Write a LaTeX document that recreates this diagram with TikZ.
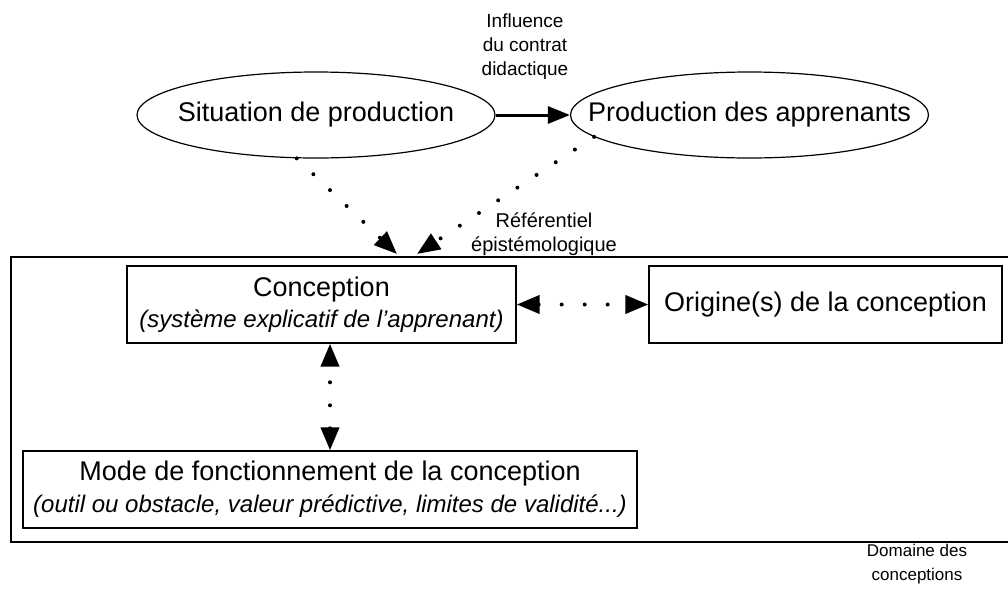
\documentclass[tikz,border=0pt]{standalone}
\usepackage{fontspec}
\setmainfont{Liberation Sans}
\usetikzlibrary{shapes.geometric,arrows.meta}
\tikzset{dtip/.tip={Triangle[length=23pt,width=18pt]}}
\begin{document}
\begin{tikzpicture}[x=1pt,y=-1pt,
  bigfont/.style={font=\fontsize{27}{32}\selectfont},
  ell/.style={draw, ellipse, line width=1.2pt, inner sep=0pt, minimum width=358pt, minimum height=86pt},
  box/.style={draw, line width=1.4pt, inner sep=0pt, align=center, bigfont},
  lbl/.style={font=\fontsize{19}{24}\selectfont, align=center, inner sep=0pt},
  dots/.style={line width=4pt, line cap=round, dash pattern=on 0pt off 23pt},
]
\useasboundingbox (0,0) rectangle (1008,590);
% outer domain
\node[draw, line width=1.4pt, minimum width=999pt, minimum height=285pt, inner sep=0pt] (dom) at (510.5,399.5) {};
% ellipses
\node[ell, label={[bigfont]center:Situation de production}] (sit) at (316,115) {};
\node[ell, label={[bigfont]center:Production des apprenants}] (prod) at (749.5,115) {};
% boxes
\node[box, minimum width=389pt, minimum height=77pt] (conc) at (321.5,304.5)
  {Conception\\[-1pt]{\fontsize{24}{28}\selectfont\itshape (système explicatif de l'apprenant)}};
\node[box, minimum width=353pt, minimum height=77pt] (orig) at (825.5,304.5) {Origine(s) de la conception};
\node[box, minimum width=614pt, minimum height=77pt] (mode) at (330,489.5)
  {Mode de fonctionnement de la conception\\[0pt]{\fontsize{24}{28}\selectfont\itshape (outil ou obstacle, valeur prédictive, limites de validité...)}};
% labels
\node[lbl] (infl) at (525,47) {Influence\\du contrat\\didactique};
\node[lbl, font=\fontsize{20}{24}\selectfont] (ref) at (544,234) {Référentiel\\épistémologique};
\node[lbl, font=\fontsize{17}{24}\selectfont] (domlbl) at (917,564) {Domaine des\\conceptions};
% connectors
\coordinate (t1) at (397,254);
\coordinate (t2) at (417,254);
\draw[line width=3pt, -{Triangle[length=22pt,width=17pt]}] (sit) -- (prod);
\draw[dots, -dtip] (sit.-114) -- (t1);
\draw[dots, -dtip] (prod.-172) -- (t2);
\draw[dots, dtip-dtip] (conc) -- (orig);
\draw[dots, dtip-dtip] (mode.north) -- (mode.north |- conc.south);
\end{tikzpicture}
\end{document}
